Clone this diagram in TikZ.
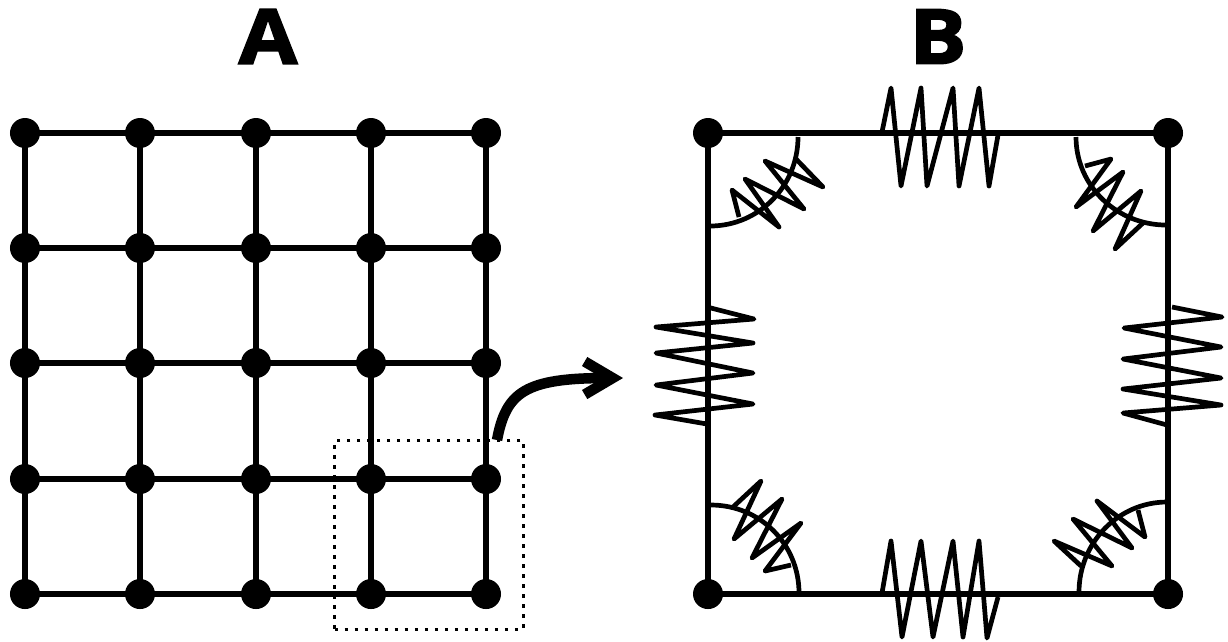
\documentclass[tikz,border=0pt]{standalone}
\usepackage{fontspec}
\setmainfont{Open Sans}[BoldFeatures={FakeBold=2.5,FakeStretch=1.12}]
\usetikzlibrary{arrows.meta}

\begin{document}
\begin{tikzpicture}[
  x=0.01cm, y=-0.01cm,
  dot/.style={circle, fill=black, inner sep=0pt, outer sep=-0.02cm, minimum size=0.3cm},
  gridline/.style={line width=0.062cm},
  frameline/.style={line width=0.066cm},
  springline/.style={line width=0.047cm, line join=round},
  cornerarc/.style={line width=0.047cm},
  zoomframe/.style={draw, line width=0.035cm, dash pattern=on 0.035cm off 0.065cm, minimum width=1.885cm, minimum height=1.885cm, inner sep=0pt},
  zoomarrow/.style={line width=0.105cm, -{Straight Barb[length=0.28cm, width=0.33cm]}},
  paneltitle/.style={font=\fontsize{21.5}{22}\selectfont\bfseries, inner sep=0pt}
]
  \useasboundingbox (0,0) rectangle (1228,641);

  \node[paneltitle] (titleA) at (268,36.5) {A};
  \node[paneltitle] (titleB) at (938,36.5) {B};

  \foreach \c/\x in {1/25, 2/140, 3/256, 4/371, 5/486}
    \foreach \r/\y in {1/133, 2/248, 3/363, 4/479, 5/594}
      \node[dot] (n\c\r) at (\x,\y) {};
  \foreach \r in {1,...,5}
    \draw[gridline] (n1\r) -- (n2\r) -- (n3\r) -- (n4\r) -- (n5\r);
  \foreach \c in {1,...,5}
    \draw[gridline] (n\c1) -- (n\c2) -- (n\c3) -- (n\c4) -- (n\c5);

  \node[zoomframe] (zoombox) at (429,535) {};
  \coordinate (arrowstart) at (497,440);
  \coordinate (arrowend) at (623,378);
  \draw[zoomarrow] (arrowstart) .. controls (506,392) and (525,378) .. (arrowend);

  \node[dot] (tl) at (708,133) {};
  \node[dot] (tr) at (1168,133) {};
  \node[dot] (bl) at (708,594) {};
  \node[dot] (br) at (1168,594) {};
  \draw[frameline] (tl) -- (tr) -- (br) -- (bl) -- (tl);

  \draw[springline] (882,132) -- (891,88) -- (901,186) -- (921,88) -- (927,186) -- (953,88) -- (959,186) -- (979,88) -- (989,186) -- (998,135);
  \draw[springline] (882,593) -- (891,541) -- (902,637) -- (921,541) -- (933,637) -- (953,541) -- (963,637) -- (979,541) -- (987,638) -- (998,597);
  \draw[springline] (707,307) -- (754,319) -- (656,327) -- (753,343) -- (656,353) -- (753,373) -- (656,385) -- (753,404) -- (655,415) -- (707,424);
  \draw[springline] (1172,307) -- (1222,317) -- (1124,328) -- (1221,347) -- (1123,359) -- (1221,378) -- (1123,389) -- (1221,405) -- (1123,413) -- (1167,425);

  \draw[cornerarc] (798,137) .. controls (798,186) and (759,226) .. (710,226);
  \draw[cornerarc] (1076,137) .. controls (1076,186) and (1117,225) .. (1166,225);
  \draw[cornerarc] (711,505) .. controls (760,505) and (799,544) .. (799,593);
  \draw[cornerarc] (1167,502) .. controls (1118,502) and (1079,543) .. (1079,592);

  \draw[springline] (739,217) -- (732,190) -- (779,227) -- (745,179) -- (804,209) -- (765,161) -- (823,187) -- (796,159);
  \draw[springline] (1085,166) -- (1111,159) -- (1076,207) -- (1123,172) -- (1093,231) -- (1141,191) -- (1115,249) -- (1143,223);
  \draw[springline] (733,507) -- (761,481) -- (734,539) -- (782,499) -- (752,558) -- (801,523) -- (765,571) -- (791,565);
  \draw[springline] (1081,566) -- (1054,541) -- (1112,566) -- (1073,519) -- (1132,548) -- (1097,501) -- (1145,537) -- (1138,510);
\end{tikzpicture}
\end{document}
